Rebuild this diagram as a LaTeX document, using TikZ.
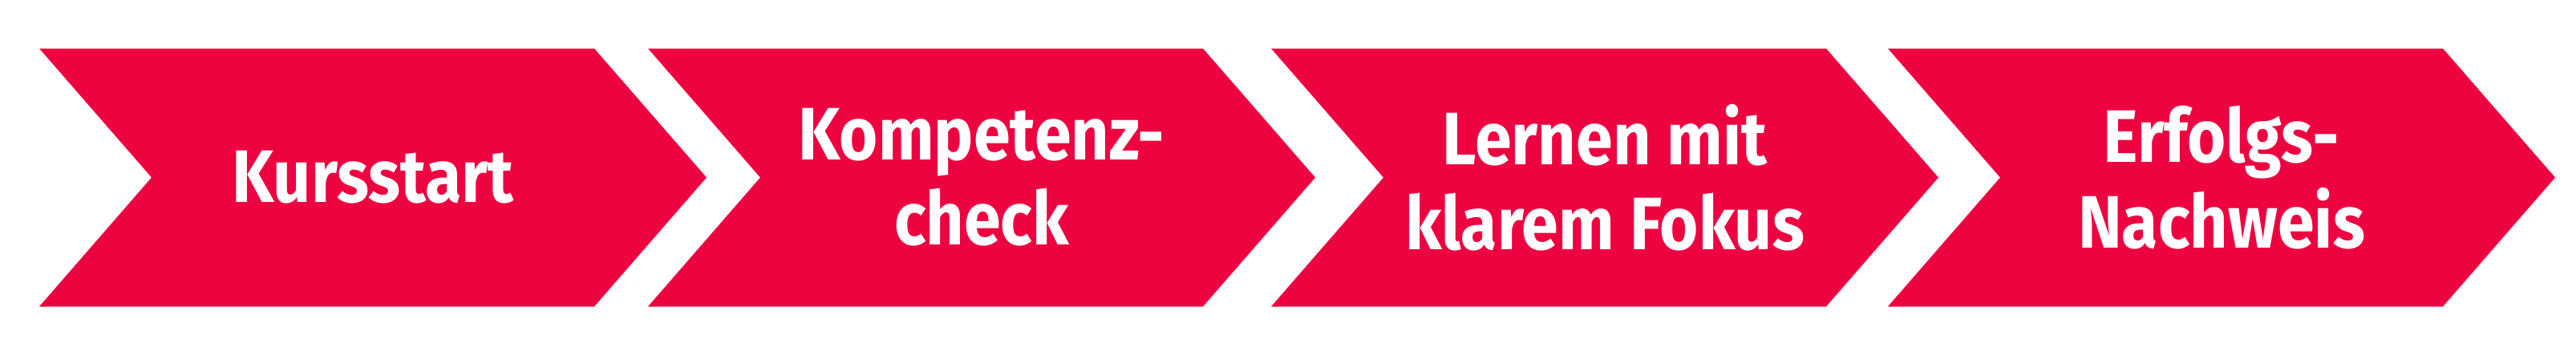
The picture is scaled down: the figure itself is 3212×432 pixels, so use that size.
\documentclass[tikz,border=0pt]{standalone}
\usepackage{fontspec}
\setmainfont{Fira Sans}[FakeStretch=0.89]
\definecolor{kursrot}{RGB}{237,3,64}
\tikzset{
  pfeil/.style={fill=kursrot, draw=none},
  etikett/.style={text=white, align=center, inner sep=0pt,
    font=\fontsize{26.4}{30.2}\selectfont\bfseries}
}
\begin{document}
\begin{tikzpicture}[x=0.1mm,y=-0.1mm]
\useasboundingbox (0,0) rectangle (3212,432);

\fill [pfeil] (49,60.5) -- (741,60.5) -- (881,221.5) -- (741,382.5) -- (49,382.5) -- (189,221.5) -- cycle;
\node [etikett] (kursstart) at (465,221.5) {Kursstart};

\fill [pfeil] (808,60.5) -- (1500,60.5) -- (1640,221.5) -- (1500,382.5) -- (808,382.5) -- (948,221.5) -- cycle;
\node [etikett] (kompetenz) at (1224,221.5) {Kompetenz-\\check};

\fill [pfeil] (1585,60.5) -- (2277,60.5) -- (2417,221.5) -- (2277,382.5) -- (1585,382.5) -- (1725,221.5) -- cycle;
\node [etikett] (lernen) at (2001,221.5) {Lernen mit\\klarem Fokus};

\fill [pfeil] (2354,60.5) -- (3046,60.5) -- (3186,221.5) -- (3046,382.5) -- (2354,382.5) -- (2494,221.5) -- cycle;
\node [etikett] (erfolg) at (2770,221.5) {Erfolgs-\\Nachweis};
\end{tikzpicture}
\end{document}
